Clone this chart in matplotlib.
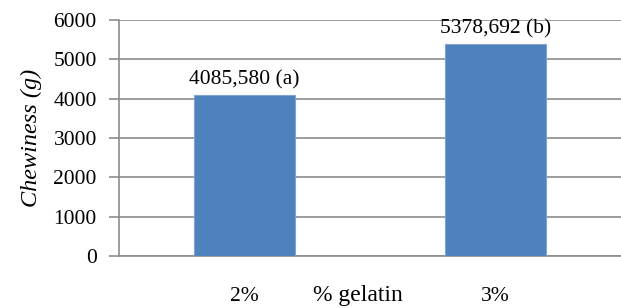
import matplotlib
matplotlib.use("Agg")
from matplotlib import pyplot as plt

categories = ["2%", "3%"]
values = [4085.580, 5378.692]
labels = ["4085,580 (a)", "5378,692 (b)"]
yticks = [0, 1000, 2000, 3000, 4000, 5000, 6000]

plt.rcParams['font.family'] = ['Liberation Serif', 'DejaVu Serif']

fig = plt.figure(figsize=(6.21, 3.08), dpi=100)
ax = fig.add_axes([119/621, 1 - 256/308, 502/621, 236/308])

x = range(len(categories))
ax.bar(x, values, width=0.4, color="#4F81BD", edgecolor="#7FA3D3", linewidth=0.8, zorder=3)
for xi, v, lab in zip(x, values, labels):
    ax.annotate(lab, (xi, v), xytext=(0, 11), textcoords="offset points",
                ha="center", va="center", fontsize=15.5, zorder=4)

ax.set_xlim(-0.5, 1.5)
ax.set_ylim(0, 6000)
ax.set_yticks(yticks)
ax.set_yticklabels([str(t) for t in yticks], fontsize=15.5)
ax.yaxis.grid(True, color="#8C8C8C", linewidth=1.2, zorder=0)
ax.set_axisbelow(True)

ax.set_xticks(list(x))
ax.set_xticklabels(categories, fontsize=15.5)
ax.tick_params(axis="x", length=0, pad=22)
ax.tick_params(axis="y", length=7, width=1.2, color="#8C8C8C", pad=9)

for s in ["top", "right"]:
    ax.spines[s].set_visible(False)
ax.spines["left"].set_color("#8C8C8C")
ax.spines["left"].set_linewidth(1.2)
ax.spines["bottom"].set_color("#8C8C8C")
ax.spines["bottom"].set_linewidth(1.2)

ax.set_ylabel("Chewiness (g)", fontsize=17.5, style="italic", labelpad=8)
fig.text(358/621, 1 - 296/308, "% gelatin", ha="center", va="center", fontsize=17)

fig.savefig("out.png", dpi=100)
